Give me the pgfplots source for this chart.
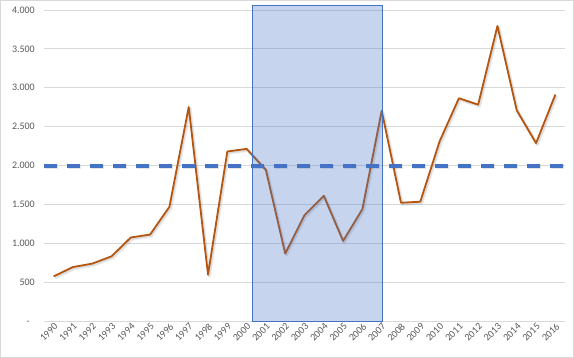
\documentclass[border=0pt]{standalone}
\usepackage{pgfplots}
\pgfplotsset{compat=1.18}
\usepackage{fontspec}
\setmainfont{Carlito}
\definecolor{linebrown}{HTML}{B4560F}
\definecolor{dashblue}{HTML}{4472C4}
\definecolor{gridgray}{HTML}{D9D9D9}
\definecolor{labgray}{HTML}{595959}
\begin{document}
\begin{tikzpicture}
\useasboundingbox (-44pt,-37pt) rectangle (530pt,321pt);
\draw[gridgray, line width=0.8pt] (-43.6pt,-36.6pt) rectangle (529.6pt,320.6pt);
\begin{axis}[
  scale only axis,
  width=521pt, height=311pt,
  at={(0,0)}, anchor=south west,
  xmin=-0.5, xmax=26.5,
  ymin=0, ymax=4000,
  clip=false,
  axis line style={draw=none},
  tick style={draw=none},
  ymajorgrids,
  grid style={draw=gridgray, line width=0.8pt},
  ytick={0,500,1000,1500,2000,2500,3000,3500,4000},
  yticklabels={-\phantom{0},500,1.000,1.500,2.000,2.500,3.000,3.500,4.000},
  xtick={0,...,26},
  xticklabels={1990,1991,1992,1993,1994,1995,1996,1997,1998,1999,2000,2001,2002,2003,2004,2005,2006,2007,2008,2009,2010,2011,2012,2013,2014,2015,2016},
  ticklabel style={font=\fontsize{10}{12}\selectfont, text=labgray},
  xticklabel style={rotate=45, anchor=north east, inner sep=1pt},
  yticklabel style={anchor=east, inner sep=0pt, xshift=-9pt},
]
\pgfplotstableread{
x y
0 574
1 694
2 738
3 832
4 1074
5 1112
6 1469
7 2753
8 595
9 2180
10 2214
11 1943
12 867
13 1362
14 1611
15 1030
16 1439
17 2705
18 1521
19 1534
20 2309
21 2865
22 2783
23 3795
24 2709
25 2288
26 2912
}\datatable
% soft shadow of the line
\addplot[black, opacity=0.06, line width=3.4pt, line join=round, transform canvas={xshift=1.3pt,yshift=-1.5pt}] table[x=x,y=y] {\datatable};
\addplot[black, opacity=0.08, line width=2.2pt, line join=round, transform canvas={xshift=1.1pt,yshift=-1.3pt}] table[x=x,y=y] {\datatable};
\addplot[linebrown, line width=1.8pt, line join=round] table[x=x,y=y] {\datatable};
% dashed reference line
\addplot[black, opacity=0.1, line width=3.6pt, dash pattern=on 13pt off 10pt, transform canvas={xshift=1.2pt,yshift=-1.4pt}] coordinates {(-0.5,1995) (26.5,1995)};
\addplot[dashblue, line width=3.3pt, dash pattern=on 13pt off 10pt] coordinates {(-0.5,1995) (26.5,1995)};
% shaded period
\addplot[draw=dashblue, line width=0.9pt, fill=dashblue, fill opacity=0.3] coordinates {(10.28,0) (10.28,4055) (17.06,4055) (17.06,0) (10.28,0)} -- cycle;
\end{axis}
\end{tikzpicture}
\end{document}
